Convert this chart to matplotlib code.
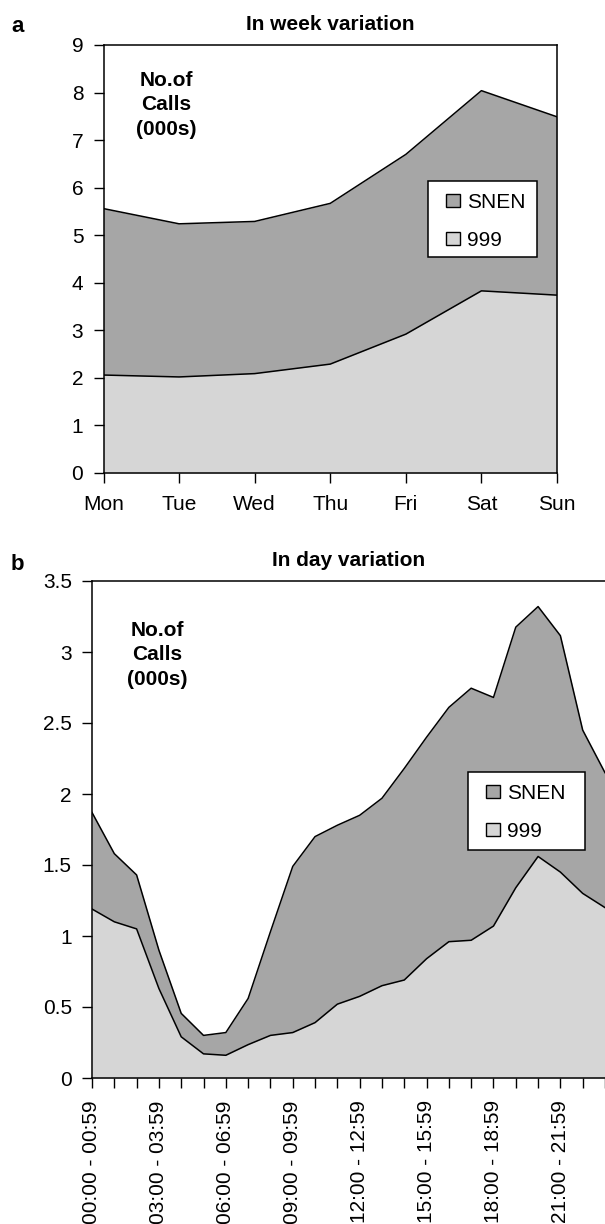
import matplotlib
matplotlib.use("Agg")
import matplotlib.pyplot as plt
from matplotlib.patches import Patch, Rectangle
from matplotlib.ticker import FuncFormatter, MultipleLocator

plt.rcParams['font.family'] = ['Liberation Sans', 'DejaVu Sans']

SNEN_COLOR = '#a6a6a6'
NINE_COLOR = '#d6d6d6'

# weekly data (thousands of calls)
days = ['Mon', 'Tue', 'Wed', 'Thu', 'Fri', 'Sat', 'Sun']
week_999 = [2.06, 2.02, 2.09, 2.29, 2.92, 3.83, 3.74]
week_snen = [3.50, 3.22, 3.20, 3.38, 3.78, 4.21, 3.75]

# hourly data (thousands of calls)
hours = list(range(24))
day_999 = [1.19, 1.10, 1.05, 0.63, 0.29, 0.17, 0.16, 0.235, 0.30, 0.32, 0.39, 0.52,
           0.575, 0.65, 0.69, 0.84, 0.96, 0.97, 1.07, 1.34, 1.56, 1.45, 1.30, 1.20]
day_snen = [0.68, 0.48, 0.38, 0.27, 0.165, 0.13, 0.16, 0.325, 0.73, 1.17, 1.31, 1.26,
            1.275, 1.32, 1.49, 1.56, 1.65, 1.775, 1.61, 1.835, 1.76, 1.665, 1.15, 0.95]
hour_labels = ['00:00 - 00:59', '03:00 - 03:59', '06:00 - 06:59', '09:00 - 09:59',
               '12:00 - 12:59', '15:00 - 15:59', '18:00 - 18:59', '21:00 - 21:59']

FS = 15
W, H = 605, 1224
fig = plt.figure(figsize=(W / 100, H / 100), dpi=100)


def stacked(ax, x, lower, upper):
    total = [a + b for a, b in zip(lower, upper)]
    ax.fill_between(x, 0, lower, color=NINE_COLOR, linewidth=0)
    ax.fill_between(x, lower, total, color=SNEN_COLOR, linewidth=0)
    ax.plot(x, lower, color='black', linewidth=1.1)
    ax.plot(x, total, color='black', linewidth=1.1)


def add_legend(ax, x0, y0, x1, y1):
    # box drawn separately so the padding can match the original (pixel coords)
    box = Rectangle((x0 / W, 1 - y1 / H), (x1 - x0) / W, (y1 - y0) / H,
                    transform=fig.transFigure, facecolor='white', edgecolor='black',
                    linewidth=1.1, zorder=4, clip_on=False)
    ax.add_patch(box)
    handles = [Patch(facecolor=SNEN_COLOR, edgecolor='black', linewidth=1.0, label='SNEN'),
               Patch(facecolor=NINE_COLOR, edgecolor='black', linewidth=1.0, label='999')]
    leg = ax.legend(handles=handles, loc='upper left',
                    bbox_to_anchor=((x0 + 18) / W, 1 - (y0 + 12) / H),
                    bbox_transform=fig.transFigure, fontsize=FS, frameon=False,
                    handlelength=0.67, handleheight=0.62, handletextpad=0.35,
                    labelspacing=0.9, borderpad=0, borderaxespad=0)
    leg.set_zorder(5)


# --- panel a ---
ax1 = fig.add_axes([103.5 / W, 1 - 473 / H, (557 - 103.5) / W, (473 - 45) / H])
x_week = range(len(days))
stacked(ax1, x_week, week_999, week_snen)
ax1.set_xlim(0, len(days) - 1)
ax1.set_ylim(0, 9)
ax1.set_xticks(list(x_week))
ax1.set_xticklabels(days)
ax1.yaxis.set_major_locator(MultipleLocator(1))
ax1.tick_params(direction='out', length=7, width=1, labelsize=FS, pad=7.5)
ax1.tick_params(axis='x', pad=9)
for s in ax1.spines.values():
    s.set_linewidth(1.1)
ax1.set_title('In week variation', fontsize=FS, fontweight='bold', pad=11)
ax1.text(166 / W, 1 - 105 / H, 'No.of\nCalls\n(000s)', transform=fig.transFigure,
         ha='center', va='center', fontsize=FS, fontweight='bold', linespacing=1.38)
add_legend(ax1, 428, 181, 537, 257)
fig.text(11 / W, 1 - 27 / H, 'a', fontsize=16, fontweight='bold', ha='left', va='center')

# --- panel b ---
ax2 = fig.add_axes([92 / W, 1 - 1078 / H, (W - 92) / W, (1078 - 581) / H])
stacked(ax2, hours, day_999, day_snen)
ax2.set_xlim(0, 23)
ax2.set_ylim(0, 3.5)
ax2.set_xticks(hours)
ax2.set_xticklabels([hour_labels[i // 3] if i % 3 == 0 else '' for i in hours],
                    rotation=90, va='top')
ax2.yaxis.set_major_locator(MultipleLocator(0.5))
ax2.yaxis.set_major_formatter(FuncFormatter(lambda v, p: '%g' % v))
ax2.tick_params(direction='out', length=7, width=1, labelsize=FS, pad=7.5)
ax2.tick_params(axis='x', pad=9)
ax2.spines['right'].set_visible(False)
for s in ax2.spines.values():
    s.set_linewidth(1.1)
ax2.set_title('In day variation', fontsize=FS, fontweight='bold', pad=11)
ax2.text(157 / W, 1 - 655 / H, 'No.of\nCalls\n(000s)', transform=fig.transFigure,
         ha='center', va='center', fontsize=FS, fontweight='bold', linespacing=1.38)
add_legend(ax2, 468, 772, 585, 850)
fig.text(11 / W, 1 - 565 / H, 'b', fontsize=16, fontweight='bold', ha='left', va='center')

fig.savefig('out.png', dpi=100)
